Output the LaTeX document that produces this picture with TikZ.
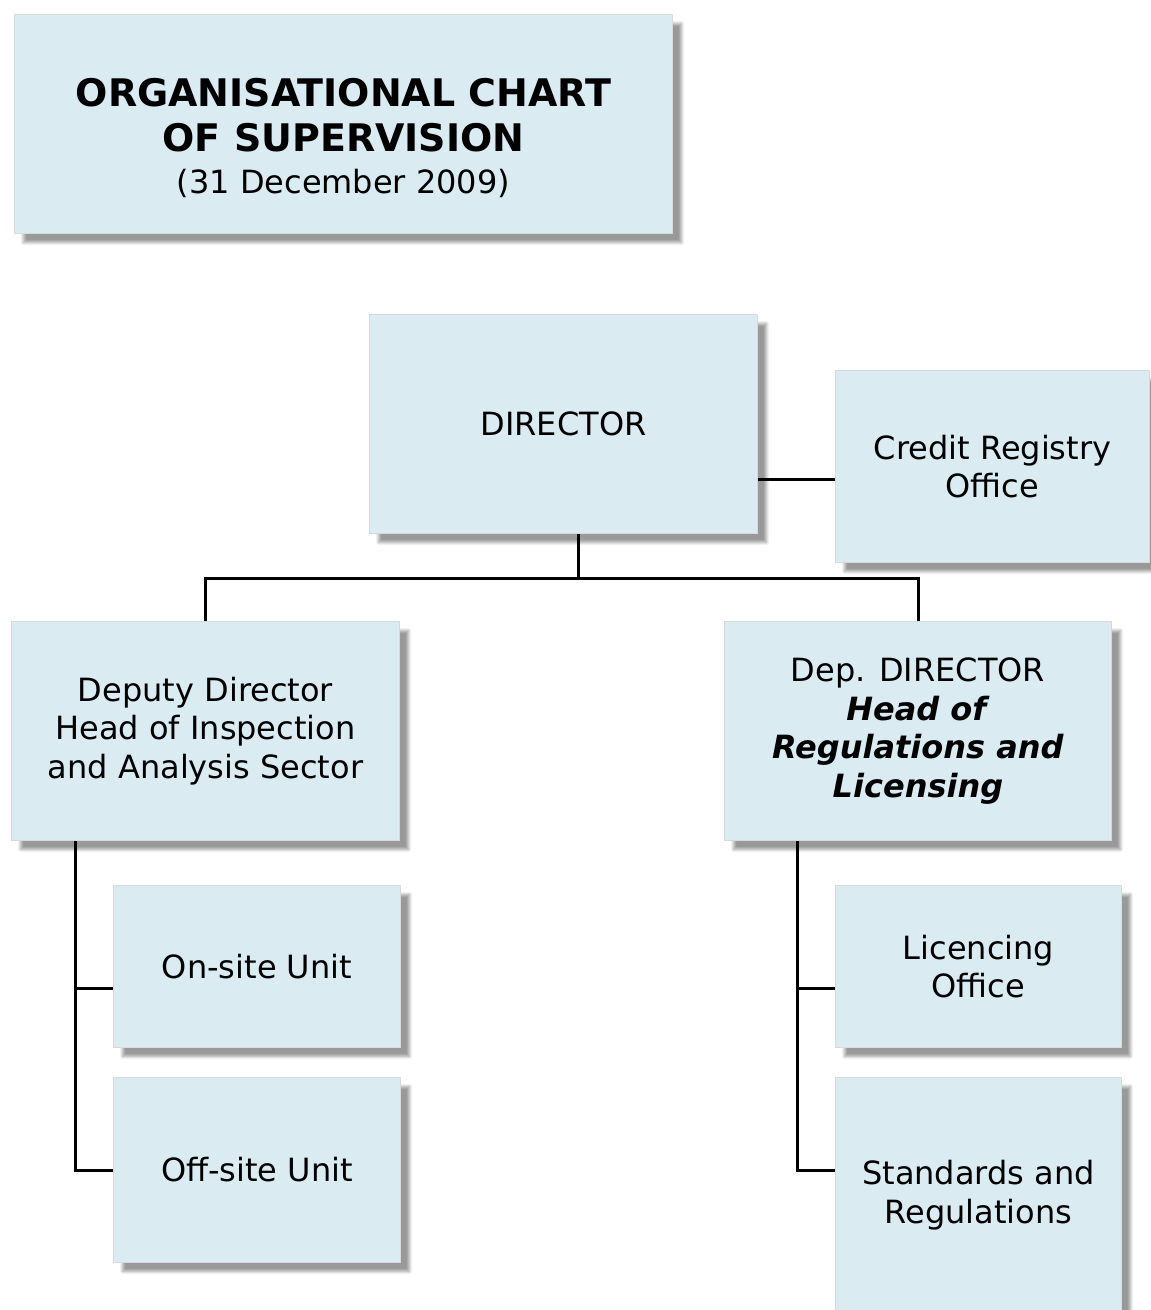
\documentclass[tikz,border=0pt]{standalone}
\usepackage{fontspec}
\setmainfont{DejaVu Sans}
\usetikzlibrary{shadows.blur,calc}
\definecolor{boxblue}{RGB}{218,235,242}
\pgfdeclarelayer{bg}
\pgfsetlayers{bg,main}
\begin{document}
\begin{tikzpicture}[x=1pt,y=-1pt,
  orgbox/.style={rectangle, draw=gray!30, line width=1pt, fill=boxblue,
    anchor=north west, inner sep=0pt, align=center,
    font=\fontsize{32}{38.5}\selectfont,
    blur shadow={shadow xshift=9pt, shadow yshift=-9pt, shadow blur steps=6,
      shadow blur radius=3pt, shadow opacity=40}},
  link/.style={line width=3pt, black}]
\useasboundingbox (0,0) rectangle (1151,1310);

% boxes
\node[orgbox, minimum width=658pt, minimum height=219pt] (title) at (14,14) {};
\node[align=center, inner sep=0pt, font=\fontsize{38}{45}\selectfont\bfseries] (titletext)
  at ($(title.center)+(0,14)$) {ORGANISATIONAL CHART\\OF SUPERVISION\\[-3pt]{\mdseries\fontsize{32}{38}\selectfont (31 December 2009)}};

\node[orgbox, minimum width=388pt, minimum height=219pt] (dir) at (369,314) {DIRECTOR};
\node[orgbox, minimum width=314pt, minimum height=192pt] (credit) at (835,370) {Credit Registry\\Office};

\node[orgbox, minimum width=388pt, minimum height=219pt] (dep1) at (11,621)
  {Deputy Director\\Head of Inspection\\and Analysis Sector};
\node[orgbox, minimum width=387pt, minimum height=219pt] (dep2) at (724,621)
  {Dep. DIRECTOR\\\textbf{\textit{Head of}}\\\textbf{\textit{Regulations and}}\\\textbf{\textit{Licensing}}};

\node[orgbox, minimum width=287pt, minimum height=162pt] (onsite) at (113,885) {On-site Unit};
\node[orgbox, minimum width=287pt, minimum height=185pt] (offsite) at (113,1077) {Off-site Unit};

\node[orgbox, minimum width=286pt, minimum height=162pt] (lic) at (835,885) {Licencing\\Office};
\node[orgbox, minimum width=286pt, minimum height=250pt] (std) at (835,1077) {};
\node[align=center, inner sep=0pt, font=\fontsize{32}{38.5}\selectfont] (stdtext)
  at ($(std.north)+(0,118)$) {Standards and\\Regulations};

% connectors
\begin{pgfonlayer}{bg}
  \coordinate (c1) at ($(dir.east)!0.5!(dir.south east)$);
  \draw[link] (c1) -- (c1 -| credit.west);

  \coordinate (dbot) at ([xshift=15pt]dir.south);
  \coordinate (busL) at ($(dep1.north)+(0,-43)$);
  \draw[link] (dbot) -- (dbot |- busL);
  \draw[link] (dep1.north) -- (busL) -- (busL -| dep2.north) -- (dep2.north);

  \coordinate (ls) at ([xshift=-130pt]dep1.south);
  \coordinate (on1) at ($(onsite.west)!0.27!(onsite.south west)$);
  \draw[link] (ls) |- (offsite.west);
  \draw[link] (ls |- on1) -- (on1);

  \coordinate (rs) at ([xshift=-120.5pt]dep2.south);
  \coordinate (lic1) at ($(lic.west)!0.27!(lic.south west)$);
  \draw[link] (rs) |- (std.west |- offsite.west);
  \draw[link] (rs |- lic1) -- (lic1);
\end{pgfonlayer}
\end{tikzpicture}
\end{document}
